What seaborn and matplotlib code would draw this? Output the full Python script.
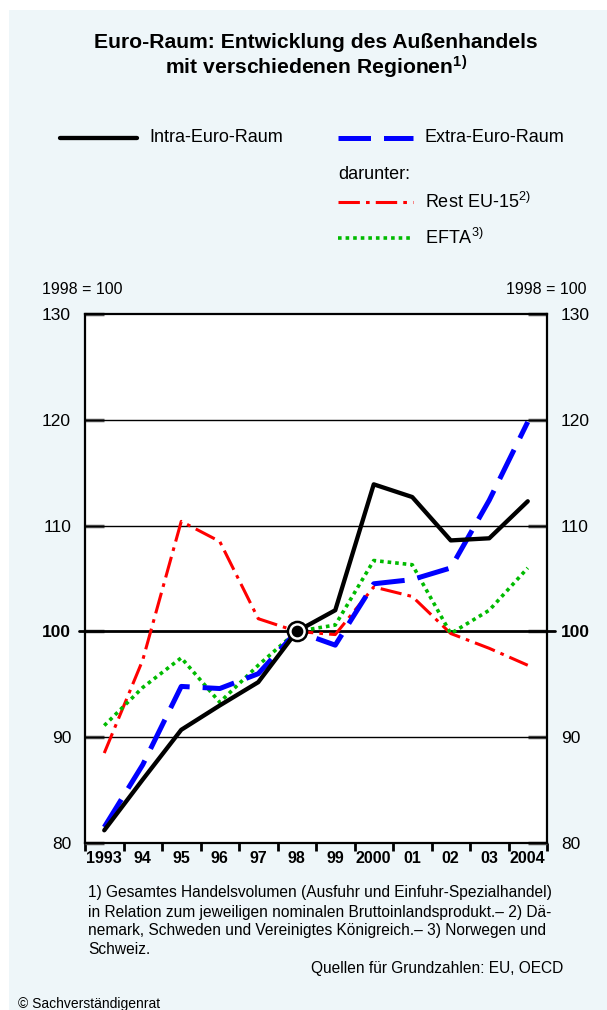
import numpy as np
import pandas as pd
import seaborn as sns
import matplotlib.pyplot as plt
from matplotlib.lines import Line2D
from matplotlib.patches import Rectangle

# Data (1998 = 100)
years = list(range(1993, 2005))
year_labels = ["1993", "94", "95", "96", "97", "98", "99", "2000", "01", "02", "03", "2004"]
y_ticks = [80, 90, 100, 110, 120, 130]
intra = [81.2, 86.0, 90.7, 93.0, 95.2, 100.0, 102.0, 113.9, 112.7, 108.6, 108.8, 112.3]
extra = [81.5, 87.4, 94.8, 94.6, 96.0, 100.0, 98.7, 104.5, 104.9, 106.0, 112.4, 119.8]
rest_eu15 = [88.5, 97.3, 110.4, 108.5, 101.2, 100.0, 99.7, 104.2, 103.3, 99.8, 98.4, 96.8]
efta = [91.1, 94.7, 97.5, 93.3, 96.8, 100.0, 100.6, 106.7, 106.3, 99.8, 102.0, 106.0]

df = pd.DataFrame({"Jahr": years, "Intra-Euro-Raum": intra, "Extra-Euro-Raum": extra,
                   "Rest EU-15": rest_eu15, "EFTA": efta})
long_df = df.melt(id_vars="Jahr", var_name="Reihe", value_name="Index")

BG = "#eef6f9"
W, H = 607, 1010

sns.set_theme(style="white")
plt.rcParams["font.family"] = ["Liberation Sans", "DejaVu Sans"]
plt.rcParams["mathtext.fontset"] = "custom"
plt.rcParams["mathtext.rm"] = "Liberation Sans"
plt.rcParams["mathtext.default"] = "regular"
plt.rcParams["text.color"] = "black"
plt.rcParams["xtick.color"] = "black"
plt.rcParams["ytick.color"] = "black"
plt.rcParams["xtick.labelcolor"] = "black"
plt.rcParams["ytick.labelcolor"] = "black"

fig = plt.figure(figsize=(W / 100, H / 100), dpi=100)
fig.patch.set_facecolor("white")
fig.add_artist(Rectangle((9 / W, 0), 1, 1 - 10 / H, transform=fig.transFigure,
                         facecolor=BG, edgecolor="none", zorder=-10))


def fx(px):
    return px / W


def fy(py):
    return 1 - py / H


ax = fig.add_axes([fx(85), fy(843), fx(547) - fx(85), fy(314) - fy(843)])
ax.set_facecolor("white")

styles = {
    "Intra-Euro-Raum": dict(color="black", lw=3.1, ls="-"),
    "Extra-Euro-Raum": dict(color="#0000ff", lw=3.6, ls=(0, (6.5, 2.6))),
    "Rest EU-15": dict(color="#ff0000", lw=2.2, ls=(0, (7, 2.0, 1.2, 2.0))),
    "EFTA": dict(color="#00bb00", lw=2.6, ls=(0, (1, 1.1))),
}

# grid lines
for v in [90, 110, 120]:
    ax.axhline(v, color="black", lw=1.0, zorder=1)
ax.axhline(100, xmin=-0.012, xmax=1.018, color="black", lw=2.0, zorder=1, clip_on=False)

order = ["Rest EU-15", "EFTA", "Extra-Euro-Raum", "Intra-Euro-Raum"]
for i, name in enumerate(order):
    st = styles[name]
    sns.lineplot(data=long_df[long_df["Reihe"] == name], x="Jahr", y="Index", ax=ax,
                 color=st["color"], linewidth=st["lw"], linestyle=st["ls"],
                 zorder=3 + i, legend=False)

# base year marker
base = df[df["Jahr"] == 1998]
ax.scatter(base["Jahr"], base["Intra-Euro-Raum"], s=190, facecolor="white",
           edgecolor="black", linewidth=1.8, zorder=10)
ax.scatter(base["Jahr"], base["Intra-Euro-Raum"], s=55, color="black", zorder=11)

ax.set_xlim(1992.5, 2004.5)
ax.set_ylim(80, 130)
ax.set_xlabel("")
ax.set_ylabel("")

ax.set_xticks(years)
ax.set_xticklabels(year_labels, fontweight="bold", fontsize=11.5)
ax.set_xticks(np.arange(1992.5, 2005, 1.0), minor=True)
ax.tick_params(axis="x", which="major", length=0, pad=6)
ax.tick_params(axis="x", which="minor", length=6, width=2, color="black",
               direction="out", bottom=True)

ax.set_yticks(y_ticks, labels=[str(v) for v in y_ticks])
ax.tick_params(axis="y", which="major", left=True, right=True, labelleft=True,
               labelright=True, direction="in", length=14, width=2.5,
               color="#555555", labelsize=12.5, pad=10)

for s in ax.spines.values():
    s.set_color("black")
    s.set_linewidth(1.6)

fig.canvas.draw()
for t in ax.yaxis.get_major_ticks():
    if t.label1.get_text() == "100":
        t.label1.set_fontweight("bold")
        t.label2.set_fontweight("bold")

# titles and texts
fig.text(fx(316), fy(42), "Euro-Raum: Entwicklung des Außenhandels",
         ha="center", va="center", fontsize=15.2, fontweight="bold")
fig.text(fx(316), fy(67), "mit verschiedenen Regionen$^{1)}$",
         ha="center", va="center", fontsize=15.2, fontweight="bold")

fig.text(fx(42), fy(289), "1998 = 100", ha="left", va="center", fontsize=11.5)
fig.text(fx(587), fy(289), "1998 = 100", ha="right", va="center", fontsize=11.5)

# legend
leg_items = [
    ("Intra-Euro-Raum", "Intra-Euro-Raum", 60, 137, 138),
    ("Extra-Euro-Raum", "Extra-Euro-Raum", 338, 413, 138),
    ("Rest EU-15", "Rest EU-15$^{2)}$", 338, 413, 202),
    ("EFTA", "EFTA$^{3)}$", 338, 413, 238),
]
for key, label, x0, x1, y in leg_items:
    st = styles[key]
    fig.add_artist(Line2D([fx(x0), fx(x1)], [fy(y), fy(y)], transform=fig.transFigure,
                          color=st["color"], lw=st["lw"], ls=st["ls"],
                          solid_capstyle="round" if key == "Intra-Euro-Raum" else "butt"))
    fig.text(fx(x1 + 12), fy(y), label, ha="left", va="center", fontsize=13)
fig.text(fx(338), fy(175), "darunter:", ha="left", va="center", fontsize=13)

# footnotes
foot = ["1) Gesamtes Handelsvolumen (Ausfuhr und Einfuhr-Spezialhandel)",
        "in Relation zum jeweiligen nominalen Bruttoinlandsprodukt.– 2) Dä-",
        "nemark, Schweden und Vereinigtes Königreich.– 3) Norwegen und",
        "Schweiz."]
for i, line in enumerate(foot):
    fig.text(fx(88), fy(893 + i * 19), line, ha="left", va="center", fontsize=11.2)
fig.text(fx(563), fy(969), "Quellen für Grundzahlen: EU, OECD", ha="right",
         va="center", fontsize=11.2)
fig.text(fx(18), fy(1004), "© Sachverständigenrat", ha="left", va="center",
         fontsize=10)

fig.savefig("out.png", dpi=100, facecolor=fig.get_facecolor())
